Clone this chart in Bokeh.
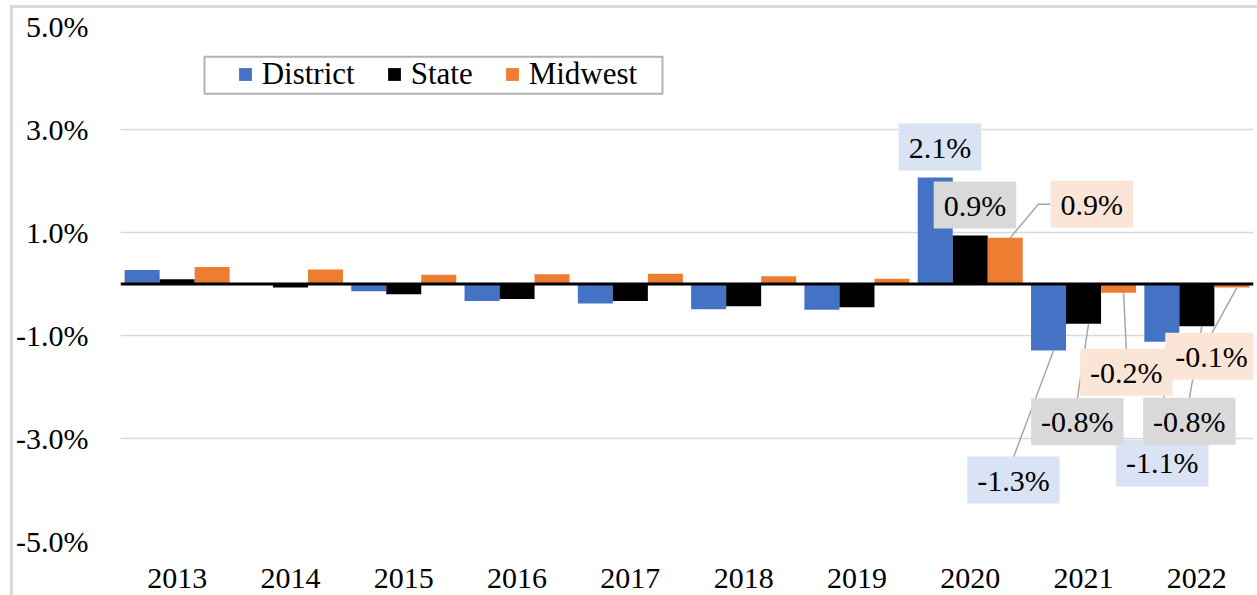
from bokeh.plotting import figure
from bokeh.models import (FactorRange, Range1d, FixedTicker, Span, Legend, LegendItem,
                          Label, BoxAnnotation, ColumnDataSource)
from bokeh.transform import dodge
from bokeh.embed import file_html
from bokeh.resources import INLINE

# ---------------- data ----------------
years = ["2013", "2014", "2015", "2016", "2017", "2018", "2019", "2020", "2021", "2022"]
district = [0.27, 0.02, -0.14, -0.33, -0.38, -0.49, -0.50, 2.07, -1.29, -1.12]
state = [0.09, -0.07, -0.20, -0.29, -0.33, -0.43, -0.45, 0.94, -0.77, -0.82]
midwest = [0.33, 0.28, 0.18, 0.19, 0.20, 0.15, 0.10, 0.90, -0.17, -0.07]
series_names = ["District", "State", "Midwest"]
y_ticks = [-5, -3, -1, 1, 3, 5]
y_tick_labels = ["-5.0%", "-3.0%", "-1.0%", "1.0%", "3.0%", "5.0%"]
labeled_years = ["2020", "2021", "2022"]

# ---------------- styles / layout ----------------
FONT = "Liberation Serif"
colors = ["#4472C4", "#000000", "#ED7D31"]
label_fills = ["#DAE3F3", "#D9D9D9", "#FBE5D6"]
FRAME_W, FRAME_H = 1133, 515
BAR_W = 0.309
px_x = FRAME_W / len(years)       # pixels per category
px_y = FRAME_H / 10.0             # pixels per percent

# label offsets in pixels from the bar end (dx right, dy up), per series, per labeled year
label_offsets = [
    [(4.7, 30.3), (-35.1, -129.6), (0.5, -121.3)],
    [(4.7, 30.5), (-6.2, -98.0), (-7.5, -95.0)],
    [(86.6, 33.5), (7.8, -79.4), (-20.4, -68.7)],
]
leader = [
    [False, True, True],
    [False, True, True],
    [True, True, True],
]
BOX_HALF_H = 22.5
BOX_HALF_W_POS = 41.5

src = ColumnDataSource(dict(year=years, District=district, State=state, Midwest=midwest))

p = figure(x_range=FactorRange(*years, range_padding=0), y_range=Range1d(-5, 5),
           frame_width=FRAME_W, frame_height=FRAME_H,
           min_border_left=107, min_border_right=4, min_border_top=18, min_border_bottom=60,
           output_backend="svg", toolbar_location=None)
p.styles = {"margin-left": "10px", "margin-top": "5px",
            "border-left": "3px solid #D9D9D9", "border-top": "3px solid #D9D9D9"}
p.outline_line_color = None
p.background_fill_color = "white"
p.border_fill_color = "white"

offsets = [-BAR_W, 0.0, BAR_W]
renderers = []
for name, off, col in zip(series_names, offsets, colors):
    r = p.vbar(x=dodge("year", off, range=p.x_range), top=name, bottom=0, width=BAR_W,
               source=src, fill_color=col, line_color=None)
    renderers.append(r)

# grid / axes
p.xgrid.grid_line_color = None
p.ygrid.ticker = FixedTicker(ticks=y_ticks)
p.ygrid.grid_line_color = "#D9D9D9"
p.ygrid.grid_line_width = 1.5

p.yaxis.ticker = FixedTicker(ticks=y_ticks)
p.yaxis.major_label_overrides = {t: l for t, l in zip(y_ticks, y_tick_labels)}
for ax in (p.xaxis[0], p.yaxis[0]):
    ax.axis_line_color = None
    ax.major_tick_line_color = None
    ax.minor_tick_line_color = None
    ax.major_tick_in = 0
    ax.major_tick_out = 0
    ax.major_label_text_font = FONT
    ax.major_label_text_font_size = "30px"
    ax.major_label_text_color = "black"
p.yaxis.major_label_standoff = 32
p.xaxis.major_label_standoff = 27

p.add_layout(Span(location=0, dimension="width", line_color="black", line_width=3))

# leader lines
values = [district, state, midwest]
lx, ly = [], []
label_specs = []
for si in range(3):
    for k, yr in enumerate(labeled_years):
        i = years.index(yr)
        v = values[si][i]
        bx = i + 0.5 + offsets[si]
        dx, dy = label_offsets[si][k]
        cx = bx + dx / px_x
        cy = v + dy / px_y
        label_specs.append((si, cx, cy, v))
        if leader[si][k]:
            sx = bx + 5 / px_x
            if dy < 0:
                lx.append([sx, cx])
                ly.append([v, cy + BOX_HALF_H / px_y])
            else:
                left = cx - BOX_HALF_W_POS / px_x
                lx.append([sx, left - 12 / px_x, left])
                ly.append([v, cy, cy])
p.multi_line(xs=lx, ys=ly, line_color="#A6A6A6", line_width=1.5)

for si, cx, cy, v in label_specs:
    p.add_layout(Label(x=cx, y=cy, text=f"{v:.1f}%", text_font=FONT, text_font_size="30px",
                       text_color="black", text_align="center", text_baseline="middle",
                       background_fill_color=label_fills[si],
                       padding=dict(left=10, right=10, top=7, bottom=7)))

# legend
legend = Legend(items=[LegendItem(label=n, renderers=[r]) for n, r in zip(series_names, renderers)],
                orientation="horizontal", location=(116.7, 448.7),
                glyph_width=16, glyph_height=16, label_standoff=9, spacing=31,
                padding=0, margin=0, border_line_color=None, background_fill_alpha=0,
                label_text_font=FONT, label_text_font_size="31px", label_text_color="black")
p.add_layout(legend)

# legend frame (pixels from frame top-left)
LEG_L, LEG_T, LEG_W, LEG_H = 84, 30.3, 458, 37
p.add_layout(BoxAnnotation(left=LEG_L / px_x, right=(LEG_L + LEG_W) / px_x,
                           top=5 - LEG_T / px_y, bottom=5 - (LEG_T + LEG_H) / px_y,
                           fill_color=None, line_color="black", line_width=2))

open("out.html", "w").write(file_html(p, INLINE))
